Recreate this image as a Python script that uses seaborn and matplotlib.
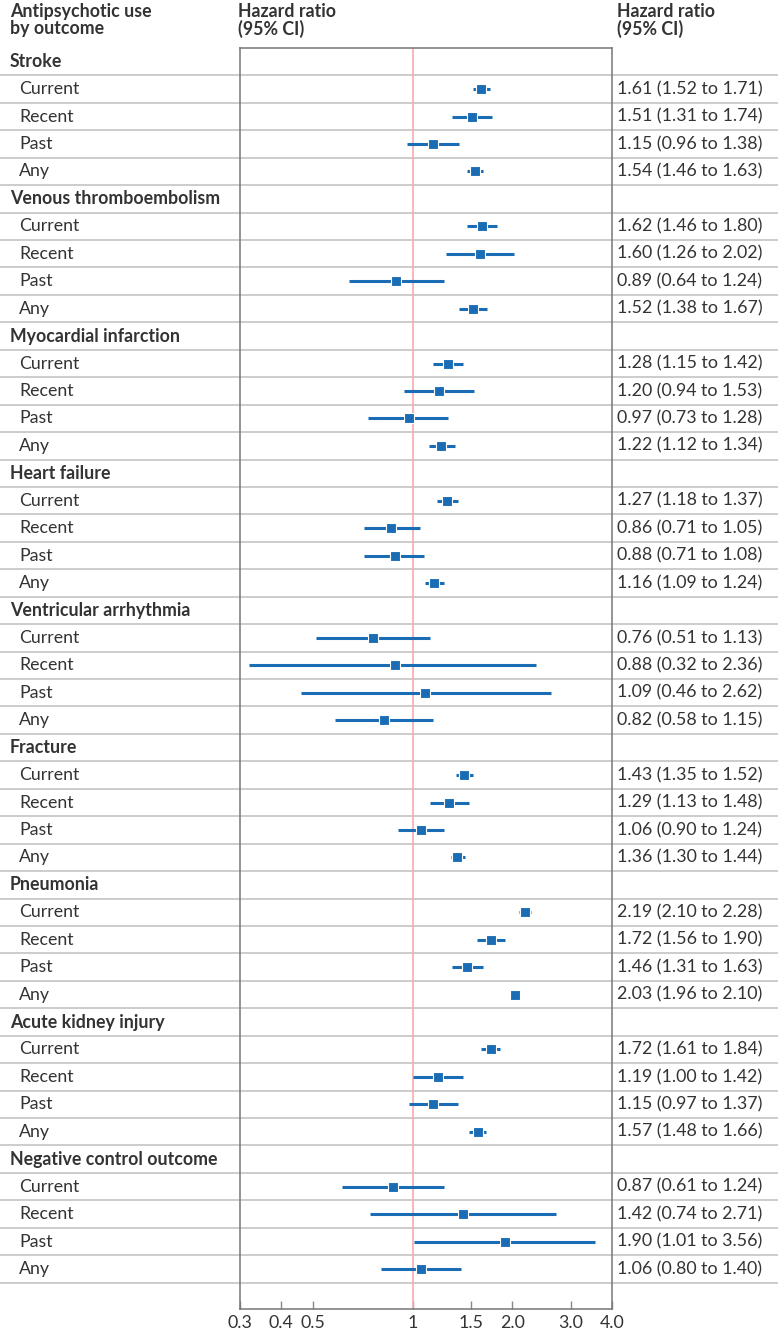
"""
forest plot: antipsychotic use by outcome, hazard ratios with 95% CI
"""

import numpy as np
import pandas as pd
import seaborn as sns
from matplotlib import pyplot as plt
from matplotlib import transforms

sns.set_style("white")
plt.rcParams['font.family'] = ['Lato', 'DejaVu Sans']

# data
outcomes = ["Stroke", "Venous thromboembolism", "Myocardial infarction",
            "Heart failure", "Ventricular arrhythmia", "Fracture",
            "Pneumonia", "Acute kidney injury", "Negative control outcome"]
use_groups = ["Current", "Recent", "Past", "Any"]

hr = [1.61, 1.51, 1.15, 1.54,
      1.62, 1.60, 0.89, 1.52,
      1.28, 1.20, 0.97, 1.22,
      1.27, 0.86, 0.88, 1.16,
      0.76, 0.88, 1.09, 0.82,
      1.43, 1.29, 1.06, 1.36,
      2.19, 1.72, 1.46, 2.03,
      1.72, 1.19, 1.15, 1.57,
      0.87, 1.42, 1.90, 1.06]
ci_low = [1.52, 1.31, 0.96, 1.46,
          1.46, 1.26, 0.64, 1.38,
          1.15, 0.94, 0.73, 1.12,
          1.18, 0.71, 0.71, 1.09,
          0.51, 0.32, 0.46, 0.58,
          1.35, 1.13, 0.90, 1.30,
          2.10, 1.56, 1.31, 1.96,
          1.61, 1.00, 0.97, 1.48,
          0.61, 0.74, 1.01, 0.80]
ci_high = [1.71, 1.74, 1.38, 1.63,
           1.80, 2.02, 1.24, 1.67,
           1.42, 1.53, 1.28, 1.34,
           1.37, 1.05, 1.08, 1.24,
           1.13, 2.36, 2.62, 1.15,
           1.52, 1.48, 1.24, 1.44,
           2.28, 1.90, 1.63, 2.10,
           1.84, 1.42, 1.37, 1.66,
           1.24, 2.71, 3.56, 1.40]

x_ticks = [0.3, 0.4, 0.5, 1, 1.5, 2.0, 3.0, 4.0]
x_tick_labels = ["0.3", "0.4", "0.5", "1", "1.5", "2.0", "3.0", "4.0"]

TEXT = "#333333"
BLUE = "#1a6db5"
GRID = "#cccccc"
FS = 12.8


def main():
    # build row table: one header row per outcome then its four rows
    rows = []
    k = 0
    for outcome in outcomes:
        rows.append({"label": outcome, "header": True})
        for use in use_groups:
            rows.append({"label": use, "header": False,
                         "hr": hr[k], "lo": ci_low[k], "hi": ci_high[k]})
            k += 1
    df = pd.DataFrame(rows)
    df["row"] = np.arange(len(df))
    data = df[~df["header"]]
    n = len(df)

    fig = plt.figure(figsize=(7.78, 13.33), dpi=100)
    ax = fig.add_axes([240 / 778, 1 - 1309 / 1333, 372 / 778, (1309 - 48) / 1333])

    ax.set_xscale("log")
    ax.set_xlim(0.3, 4.0)
    ax.set_ylim(n - 1 + 1.46, -0.5)

    # separator lines across the whole figure
    xmin = -240 / 372
    xmax = (778 - 240) / 372
    for r in range(n):
        ax.plot([xmin, xmax], [r + 0.5, r + 0.5], color=GRID, lw=1.4,
                transform=ax.get_yaxis_transform(), clip_on=False, zorder=1)

    # reference line at 1
    ax.axvline(1, color="#f6a9b0", lw=1.2, zorder=2)

    # confidence intervals and point estimates
    ax.hlines(data["row"], data["lo"], data["hi"], color=BLUE, lw=2.2, zorder=3)
    sns.scatterplot(data=data, x="hr", y="row", marker="s", s=58, color=BLUE,
                    edgecolor="white", linewidth=0.8, ax=ax, zorder=4)

    ax.set_xticks(x_ticks)
    ax.set_xticklabels(x_tick_labels)
    ax.xaxis.set_minor_locator(plt.NullLocator())
    ax.tick_params(axis="x", direction="in", length=6, width=1, color="#888888",
                   labelsize=FS, labelcolor=TEXT, pad=4, bottom=True)
    ax.set_yticks([])
    ax.set_xlabel("")
    ax.set_ylabel("")
    for spine in ax.spines.values():
        spine.set_color("#777777")
        spine.set_linewidth(1.1)

    # text columns
    trans = transforms.blended_transform_factory(fig.transFigure, ax.transData)
    for _, r in df.iterrows():
        if r["header"]:
            ax.text(10 / 778, r["row"], r["label"], transform=trans,
                    fontsize=FS, fontweight="bold", color=TEXT, va="center")
        else:
            ax.text(19 / 778, r["row"], r["label"], transform=trans,
                    fontsize=FS, color=TEXT, va="center")
            label = "{:.2f} ({:.2f} to {:.2f})".format(r["hr"], r["lo"], r["hi"])
            ax.text(617 / 778, r["row"], label, transform=trans,
                    fontsize=FS, color=TEXT, va="center")

    # column headers
    for xpos, txt in [(10, "Antipsychotic use\nby outcome"),
                      (238, "Hazard ratio\n(95% CI)"),
                      (617, "Hazard ratio\n(95% CI)")]:
        fig.text(xpos / 778, 1 - 3 / 1333, txt, fontsize=FS, fontweight="bold",
                 color=TEXT, va="top", linespacing=1.0)

    legend = ax.get_legend()
    if legend is not None:
        legend.remove()

    fig.savefig("out.png", dpi=100)


if __name__ == "__main__":
    main()
